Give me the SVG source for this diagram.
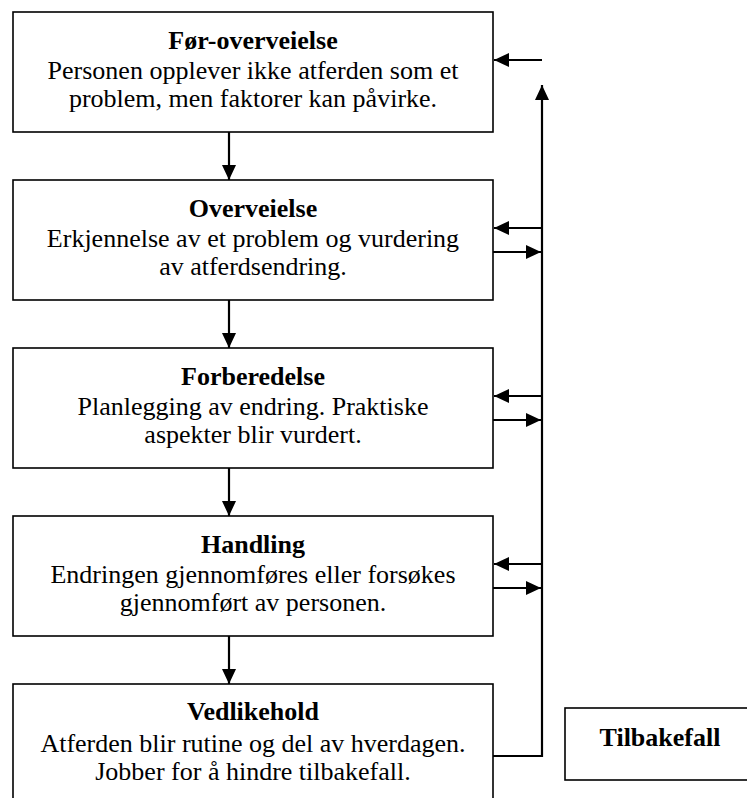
<svg xmlns="http://www.w3.org/2000/svg" width="747" height="798" viewBox="0 0 747 798">
<style>
.box{fill:#fff;stroke:#000;stroke-width:1.6}
.t{font-family:"Liberation Serif","Times New Roman",serif;font-size:26px;fill:#000;text-anchor:middle}
.b{font-weight:bold}
.c{fill:none;stroke:#000;stroke-width:2.2}
</style>
<defs>
<marker id="ah" markerUnits="userSpaceOnUse" markerWidth="16" markerHeight="16" viewBox="0 0 16 16" refX="15" refY="8" orient="auto">
<path d="M0,1 L15,8 L0,15 Z" fill="#000"/>
</marker>
</defs>
<rect width="747" height="798" fill="#fff"/>
<g id="n1">
<rect class="box" x="13" y="12" width="480" height="120"/>
<text class="t b" x="253" y="49">Før-overveielse</text>
<text class="t" x="253" y="79">Personen opplever ikke atferden som et</text>
<text class="t" x="253" y="107">problem, men faktorer kan påvirke.</text>
</g>
<g id="n2">
<rect class="box" x="13" y="180" width="480" height="120"/>
<text class="t b" x="253" y="217">Overveielse</text>
<text class="t" x="253" y="247">Erkjennelse av et problem og vurdering</text>
<text class="t" x="253" y="275">av atferdsendring.</text>
</g>
<g id="n3">
<rect class="box" x="13" y="348" width="480" height="120"/>
<text class="t b" x="253" y="385">Forberedelse</text>
<text class="t" x="253" y="415">Planlegging av endring. Praktiske</text>
<text class="t" x="253" y="443">aspekter blir vurdert.</text>
</g>
<g id="n4">
<rect class="box" x="13" y="516" width="480" height="120"/>
<text class="t b" x="253" y="553">Handling</text>
<text class="t" x="253" y="583">Endringen gjennomføres eller forsøkes</text>
<text class="t" x="253" y="611">gjennomført av personen.</text>
</g>
<g id="n5">
<rect class="box" x="13" y="684" width="480" height="124"/>
<text class="t b" x="253" y="720">Vedlikehold</text>
<text class="t" x="253" y="752">Atferden blir rutine og del av hverdagen.</text>
<text class="t" x="253" y="780">Jobber for å hindre tilbakefall.</text>
</g>
<g id="n6">
<rect class="box" x="565" y="708" width="186" height="72"/>
<text class="t b" x="660" y="746">Tilbakefall</text>
</g>
<g id="connectors">
<line class="c" x1="229" y1="132" x2="229" y2="180" marker-end="url(#ah)"/>
<line class="c" x1="229" y1="300" x2="229" y2="348" marker-end="url(#ah)"/>
<line class="c" x1="229" y1="468" x2="229" y2="516" marker-end="url(#ah)"/>
<line class="c" x1="229" y1="636" x2="229" y2="684" marker-end="url(#ah)"/>
<polyline class="c" points="493,756 542,756 542,85" marker-end="url(#ah)"/>
<line class="c" x1="542" y1="60" x2="494" y2="60" marker-end="url(#ah)"/>
<line class="c" x1="542" y1="228" x2="494" y2="228" marker-end="url(#ah)"/>
<line class="c" x1="493" y1="252" x2="541" y2="252" marker-end="url(#ah)"/>
<line class="c" x1="542" y1="396" x2="494" y2="396" marker-end="url(#ah)"/>
<line class="c" x1="493" y1="420" x2="541" y2="420" marker-end="url(#ah)"/>
<line class="c" x1="542" y1="564" x2="494" y2="564" marker-end="url(#ah)"/>
<line class="c" x1="493" y1="588" x2="541" y2="588" marker-end="url(#ah)"/>
</g>
</svg>
